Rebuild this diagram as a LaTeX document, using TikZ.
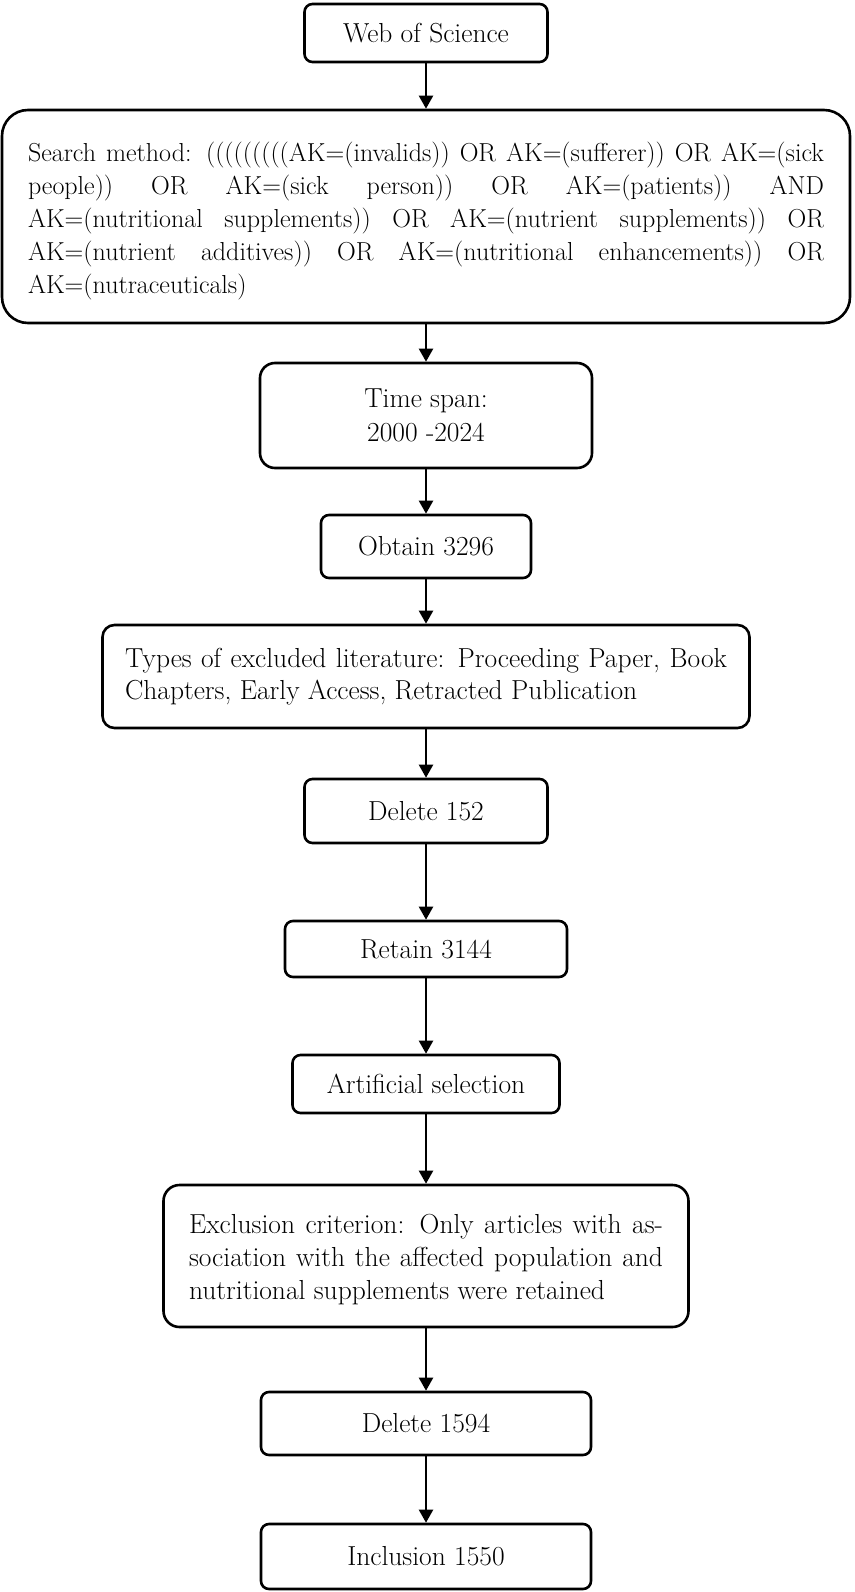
\documentclass[tikz,border=0pt]{standalone}
\usetikzlibrary{arrows.meta}
\begin{document}
\begin{tikzpicture}[x=1pt,y=-1pt,
  box/.style={draw=black, line width=2.6pt, rounded corners=8pt, inner sep=0pt, font=\fontsize{27.5}{34}\selectfont},
  oneline/.style={text height=18.8pt, text depth=0pt},
  arr/.style={draw=black, line width=2.2pt, -{Triangle[width=14pt,length=13pt]}}
]
\useasboundingbox (0,0) rectangle (854,1592);

\node[box, oneline, minimum width=243pt, minimum height=58pt] (wos) at (426,33) {Web of Science};

\node[box, rounded corners=26pt, minimum width=848pt, minimum height=213pt, align=left,
      font=\fontsize{26}{33}\selectfont] (search) at (426,216.5)
 {\makebox[796pt][s]{\rule{0pt}{28pt}Search method: (((((((((AK=(invalids)) OR AK=(sufferer)) OR AK=(sick}\\
  \makebox[796pt][s]{people)) OR AK=(sick person)) OR AK=(patients)) AND}\\
  \makebox[796pt][s]{AK=(nutritional supplements)) OR AK=(nutrient supplements)) OR}\\
  \makebox[796pt][s]{AK=(nutrient additives)) OR AK=(nutritional enhancements)) OR}\\
  AK=(nutraceuticals)};

\node[box, rounded corners=15pt, minimum width=332pt, minimum height=105pt, align=center] (time) at (426,415.5)
 {Time span:\\2000 -2024};

\node[box, oneline, minimum width=210pt, minimum height=63pt] (obtain) at (426,546.5) {Obtain 3296};

\node[box, rounded corners=12pt, minimum width=647pt, minimum height=103pt, align=left,
      font=\fontsize{27.5}{32}\selectfont] (types) at (426,676.5)
 {\makebox[602pt][s]{Types of excluded literature: Proceeding Paper, Book}\\
  Chapters, Early Access, Retracted Publication};

\node[box, oneline, minimum width=243pt, minimum height=64pt] (del1) at (426,811) {Delete 152};

\node[box, oneline, minimum width=282pt, minimum height=56pt] (retain) at (426,949) {Retain 3144};

\node[box, oneline, minimum width=267pt, minimum height=58pt] (artif) at (426,1084) {Artificial selection};

\node[box, rounded corners=16pt, minimum width=525pt, minimum height=142pt, align=left,
      font=\fontsize{27.5}{33}\selectfont] (excl) at (426,1256)
 {\makebox[474pt][s]{\rule{0pt}{26pt}Exclusion criterion: Only articles with as-}\\
  \makebox[474pt][s]{sociation with the affected population and}\\
  nutritional supplements were retained};

\node[box, oneline, minimum width=330pt, minimum height=63pt] (del2) at (426,1423.5) {Delete 1594};

\node[box, oneline, minimum width=330pt, minimum height=65pt] (incl) at (426,1556.5) {Inclusion 1550};

\draw[arr] (wos) -- (search);
\draw[arr] (search) -- (time);
\draw[arr] (time) -- (obtain);
\draw[arr] (obtain) -- (types);
\draw[arr] (types) -- (del1);
\draw[arr] (del1) -- (retain);
\draw[arr] (retain) -- (artif);
\draw[arr] (artif) -- (excl);
\draw[arr] (excl) -- (del2);
\draw[arr] (del2) -- (incl);
\end{tikzpicture}
\end{document}
